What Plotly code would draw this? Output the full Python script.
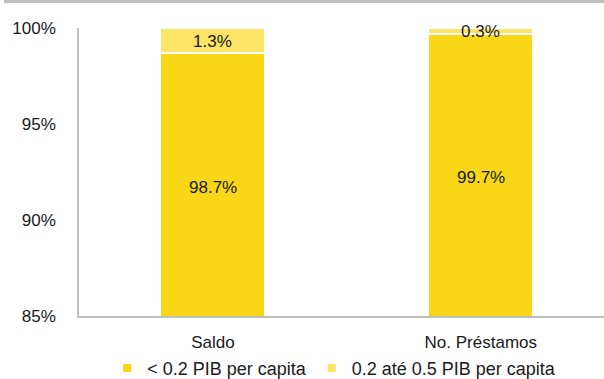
import plotly.graph_objects as go

categories = ["Saldo", "No. Préstamos"]
low_share = [98.7, 99.7]
mid_share = [1.3, 0.3]
series_names = ["< 0.2 PIB per capita", "0.2 até 0.5 PIB per capita"]
y_ticks = [85, 90, 95, 100]
y_tick_labels = ["85%", "90%", "95%", "100%"]

c_dark = "#F9D616"
c_light = "#FDE466"
font_family = "Liberation Sans, Arial, sans-serif"
txt = "#1a1a1a"

fig = go.Figure()
fig.add_trace(go.Bar(x=categories, y=low_share, marker=dict(color=c_dark, line=dict(color="white", width=1.5)),
                     width=0.39, showlegend=False, hoverinfo="skip"))
fig.add_trace(go.Bar(x=categories, y=mid_share, marker=dict(color=c_light, line=dict(color="white", width=1.5)),
                     width=0.39, showlegend=False, hoverinfo="skip"))
# legend proxies
for name, col in zip(series_names, [c_dark, c_light]):
    fig.add_trace(go.Scatter(x=[None], y=[None], mode="markers", name=name,
                             marker=dict(symbol="square", size=8, color=col)))

ymin = 85
annotations = []
for i, cat in enumerate(categories):
    lo = low_share[i]
    mid = mid_share[i]
    annotations.append(dict(x=cat, y=(ymin + lo) / 2 - 0.15, text=f"{lo:.1f}%", showarrow=False,
                            font=dict(size=17, color=txt, family=font_family)))
    annotations.append(dict(x=cat, y=lo + mid / 2 - 0.05, text=f"{mid:.1f}%", showarrow=False,
                            font=dict(size=17, color=txt, family=font_family)))

fig.update_layout(
    barmode="stack",
    width=604, height=379,
    margin=dict(l=79, r=0, t=28, b=63, autoexpand=False),
    paper_bgcolor="white", plot_bgcolor="white",
    font=dict(family=font_family, size=17, color=txt),
    annotations=annotations,
    legend=dict(orientation="h", traceorder="normal", x=0.486, xanchor="center", y=-0.182, yanchor="middle",
                font=dict(size=18, color=txt), itemwidth=30, tracegroupgap=0,
                bgcolor="rgba(0,0,0,0)", borderwidth=0),
    shapes=[dict(type="rect", xref="paper", yref="paper", x0=-75/525, x1=1.0, y0=1 + 25/288, y1=1 + 28/288,
                 fillcolor="#BFBFBF", line=dict(width=0), layer="above")],
)
fig.update_xaxes(range=[-0.5, 1.46], showline=True, linecolor="#BFBFBF", linewidth=1.5,
                 showgrid=False, ticks="", ticklabelstandoff=10, tickfont=dict(size=17, color=txt))
fig.update_yaxes(range=[85, 100], tickvals=y_ticks, ticktext=y_tick_labels, showline=True,
                 linecolor="#BFBFBF", linewidth=1.5, showgrid=False, zeroline=False, ticks="",
                 ticklabelstandoff=18, tickfont=dict(size=17, color=txt))
fig.write_html("out.html")
